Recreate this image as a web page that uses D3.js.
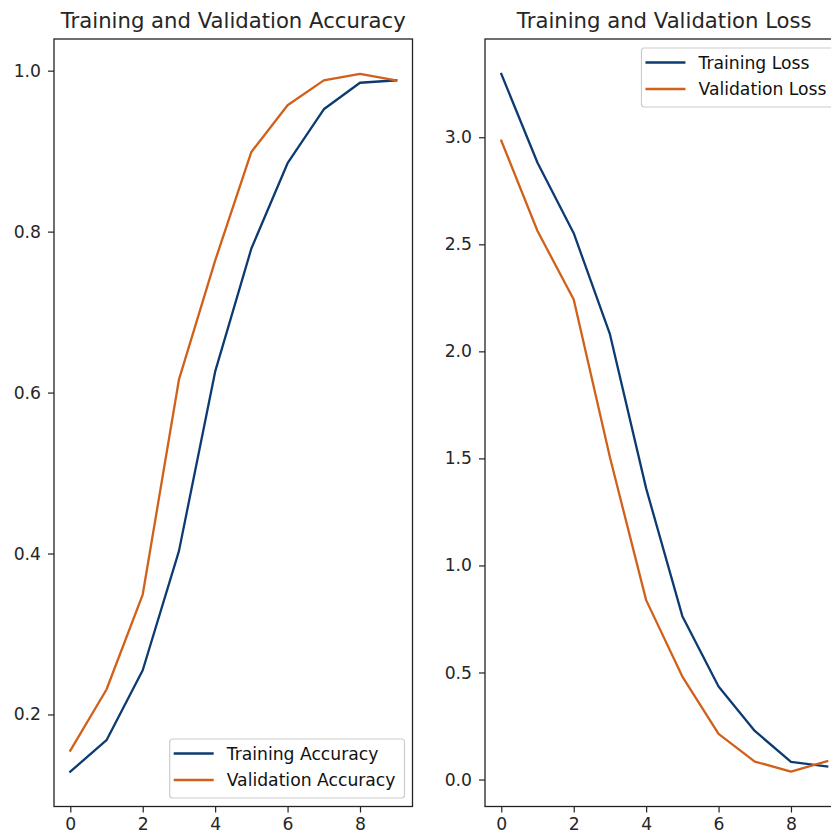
<!DOCTYPE html>
<html>
<head>
<meta charset="utf-8">
<script src="https://cdn.jsdelivr.net/npm/d3@7"></script>
<style>
  html, body { margin: 0; padding: 0; background: #fff; overflow: hidden; }
  svg { display: block; }
  text { font-family: "DejaVu Sans", sans-serif; }
</style>
</head>
<body>
<svg id="chart" width="831" height="832"></svg>
<script>
// ---- data ----
const epochs = [0, 1, 2, 3, 4, 5, 6, 7, 8, 9];
const trainAcc = [0.129, 0.168, 0.255, 0.403, 0.626, 0.779, 0.885, 0.952, 0.985, 0.988];
const valAcc   = [0.155, 0.231, 0.349, 0.616, 0.764, 0.899, 0.957, 0.988, 0.996, 0.988];
const trainLoss = [3.296, 2.881, 2.552, 2.080, 1.360, 0.763, 0.435, 0.227, 0.082, 0.061];
const valLoss   = [2.984, 2.562, 2.242, 1.505, 0.838, 0.481, 0.213, 0.084, 0.037, 0.086];
const xTicks = [0, 2, 4, 6, 8];
const accTicks = [0.2, 0.4, 0.6, 0.8, 1.0];
const lossTicks = [0.0, 0.5, 1.0, 1.5, 2.0, 2.5, 3.0];
const titles = ["Training and Validation Accuracy", "Training and Validation Loss"];
const accLabels = ["Training Accuracy", "Validation Accuracy"];
const lossLabels = ["Training Loss", "Validation Loss"];

const colTrain = "#0c3b72";
const colVal = "#d0601a";
const tickFont = 17.2;
const titleFont = 21.2;

const svg = d3.select("#chart");

function panel(opts) {
  const { left, right, top, bottom, series, yTicks, title, labels, legendPos } = opts;
  const g = svg.append("g");
  const x = d3.scaleLinear().domain([-0.45, 9.45]).range([left, right]);
  const all = series.flat();
  const mn = d3.min(all), mx = d3.max(all), pad = (mx - mn) * 0.05;
  const y = d3.scaleLinear().domain([mn - pad, mx + pad]).range([bottom, top]);

  // lines
  const line = d3.line().x((d, i) => x(epochs[i])).y(d => y(d));
  [colTrain, colVal].forEach((c, k) => {
    g.append("path").datum(series[k]).attr("d", line)
      .attr("fill", "none").attr("stroke", c).attr("stroke-width", 2.3)
      .attr("stroke-linejoin", "round").attr("stroke-linecap", "square");
  });

  // axes
  const xa = g.append("g").attr("transform", `translate(0,${bottom})`)
    .call(d3.axisBottom(x).tickValues(xTicks).tickFormat(d3.format("d")).tickSize(6).tickPadding(5).tickSizeOuter(0));
  const ya = g.append("g").attr("transform", `translate(${left},0)`)
    .call(d3.axisLeft(y).tickValues(yTicks).tickFormat(d3.format(".1f")).tickSize(6).tickPadding(7).tickSizeOuter(0));
  [xa, ya].forEach(a => {
    a.select(".domain").remove();
    a.selectAll(".tick line").attr("stroke", "#222").attr("stroke-width", 1.2);
    a.selectAll(".tick text").attr("fill", "#262626").style("font-size", tickFont + "px")
      .style("font-family", "DejaVu Sans, sans-serif");
  });

  // frame
  g.append("rect").attr("x", left).attr("y", top).attr("width", right - left).attr("height", bottom - top)
    .attr("fill", "none").attr("stroke", "#222").attr("stroke-width", 1.3);

  // title
  g.append("text").attr("x", (left + right) / 2).attr("y", top - 11)
    .attr("text-anchor", "middle").style("font-size", titleFont + "px").attr("fill", "#262626").text(title);

  // legend
  const lg = g.append("g");
  const rowH = 26.5;
  const tmp = lg.append("text").style("font-size", tickFont + "px").text(labels[1]);
  const tw = Math.max(...labels.map(l => { tmp.text(l); return tmp.node().getComputedTextLength(); }));
  tmp.remove();
  const bw = 4 + 40 + 13 + tw + 9;
  const bh = rowH * 2 + 6;
  let bx, by;
  if (legendPos === "lr") { bx = right - 8 - bw; by = bottom - 8.5 - bh; }
  else { bx = right - 8 - bw; by = top + 9; }
  lg.append("rect").attr("x", bx).attr("y", by).attr("width", bw).attr("height", bh)
    .attr("rx", 3).attr("fill", "#fff").attr("fill-opacity", 0.8).attr("stroke", "#cccccc").attr("stroke-width", 1.2);
  [colTrain, colVal].forEach((c, k) => {
    const cy = by + 14.5 + k * rowH;
    lg.append("line").attr("x1", bx + 4).attr("x2", bx + 44).attr("y1", cy).attr("y2", cy)
      .attr("stroke", c).attr("stroke-width", 2.4);
    lg.append("text").attr("x", bx + 57).attr("y", cy + 6).style("font-size", tickFont + "px")
      .attr("fill", "#111").text(labels[k]);
  });
}

panel({ left: 54, right: 412.5, top: 39, bottom: 806.5, series: [trainAcc, valAcc],
  yTicks: accTicks, title: titles[0], labels: accLabels, legendPos: "lr" });
panel({ left: 485, right: 843.5, top: 39, bottom: 806.5, series: [trainLoss, valLoss],
  yTicks: lossTicks, title: titles[1], labels: lossLabels, legendPos: "ur" });
</script>
</body>
</html>
